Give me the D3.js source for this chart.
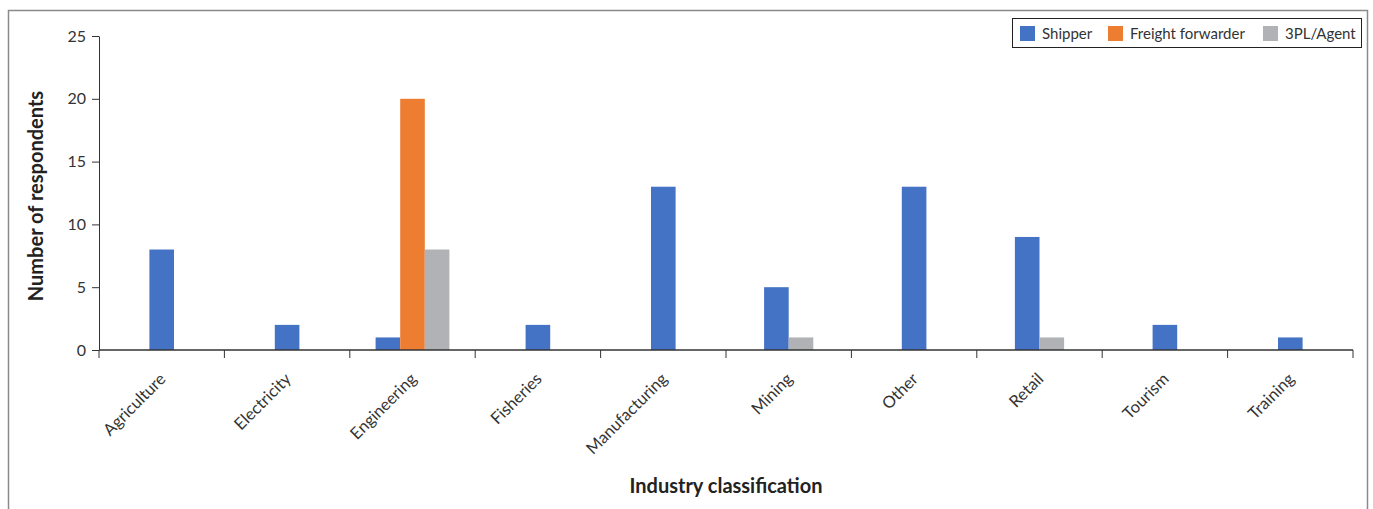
<!DOCTYPE html>
<html><head><meta charset="utf-8">
<script src="https://cdn.jsdelivr.net/npm/d3@7"></script>
<style>body{margin:0;background:#fff;}svg{display:block;font-family:Lato,"Open Sans",sans-serif;}</style>
</head><body>
<script>
const categories = ["Agriculture","Electricity","Engineering","Fisheries","Manufacturing","Mining","Other","Retail","Tourism","Training"];
const seriesNames = ["Shipper","Freight forwarder","3PL/Agent"];
const shipper = [8,2,1,2,13,5,13,9,2,1];
const freightForwarder = [0,0,20,0,0,0,0,0,0,0];
const agent3PL = [0,0,8,0,0,1,0,1,0,0];
const yTicks = [0,5,10,15,20,25];
const colors = ["#4472C4","#ED7D31","#B1B2B5"];

const W = 1373, H = 509;
const svg = d3.select("body").append("svg").attr("width", W).attr("height", H);
svg.append("rect").attr("x",8.5).attr("y",10.5).attr("width",1359).attr("height",510)
  .attr("fill","none").attr("stroke","#8a8a8a").attr("stroke-width",1.5);

const x0 = 99, x1 = 1353, yTop = 36, yBot = 350;
const x = d3.scaleBand().domain(categories).range([x0, x1]).padding(0);
const y = d3.scaleLinear().domain([0,25]).range([yBot, yTop]);
const barW = 24.6;

const seriesVals = [shipper, freightForwarder, agent3PL];
categories.forEach((c, i) => {
  const present = seriesVals.map((s, k) => ({k, v: s[i]})).filter(d => d.v > 0);
  const cx = x(c) + x.bandwidth()/2;
  const start = cx - present.length * barW / 2;
  present.forEach((d, j) => {
    svg.append("rect").attr("x", start + j*barW).attr("y", y(d.v))
      .attr("width", barW).attr("height", yBot - y(d.v)).attr("fill", colors[d.k]);
  });
});

// y axis
const yAxis = d3.axisLeft(y).tickValues(yTicks).tickSize(7).tickPadding(6).tickSizeOuter(0);
const gy = svg.append("g").attr("transform", `translate(${x0},0)`).call(yAxis);
gy.select(".domain").attr("stroke","#333");
gy.selectAll(".tick line").attr("stroke","#333");
gy.selectAll(".tick text").attr("font-size",16).attr("fill","#333").attr("font-family","Lato,'Open Sans',sans-serif");

// x axis
const xTickPos = categories.map(c => x(c)).concat([x1]);
const gx = svg.append("g");
gx.append("line").attr("x1", x0).attr("x2", x1).attr("y1", yBot).attr("y2", yBot).attr("stroke","#333").attr("stroke-width",1.3);
gx.selectAll("line.t").data(xTickPos).join("line").attr("class","t")
  .attr("x1", d=>d).attr("x2", d=>d).attr("y1", yBot).attr("y2", yBot+8).attr("stroke","#333");
gx.selectAll("text").data(categories).join("text")
  .attr("transform", d => `translate(${x(d)+x.bandwidth()/2+5},${yBot+30}) rotate(-45)`)
  .attr("text-anchor","end").attr("font-size",16.5).attr("fill","#333").text(d=>d);

// axis titles
svg.append("text").attr("transform","translate(43,196) rotate(-90)").attr("text-anchor","middle")
  .attr("font-size",20).attr("font-weight","bold").attr("fill","#222").text("Number of respondents");
svg.append("text").attr("x",726).attr("y",493).attr("text-anchor","middle")
  .attr("font-size",20).attr("font-weight","bold").attr("fill","#222").text("Industry classification");

// legend
const lg = svg.append("g");
lg.append("rect").attr("x",1012.5).attr("y",18.5).attr("width",349).attr("height",29)
  .attr("fill","#fff").attr("stroke","#222").attr("stroke-width",1);
const legX = [1020, 1108, 1263];
seriesNames.forEach((n, k) => {
  lg.append("rect").attr("x", legX[k]).attr("y", 26).attr("width", 15).attr("height", 15).attr("fill", colors[k]);
  lg.append("text").attr("x", legX[k]+22).attr("y", 39).attr("font-size",15).attr("fill","#333").text(n);
});
</script>
</body></html>
